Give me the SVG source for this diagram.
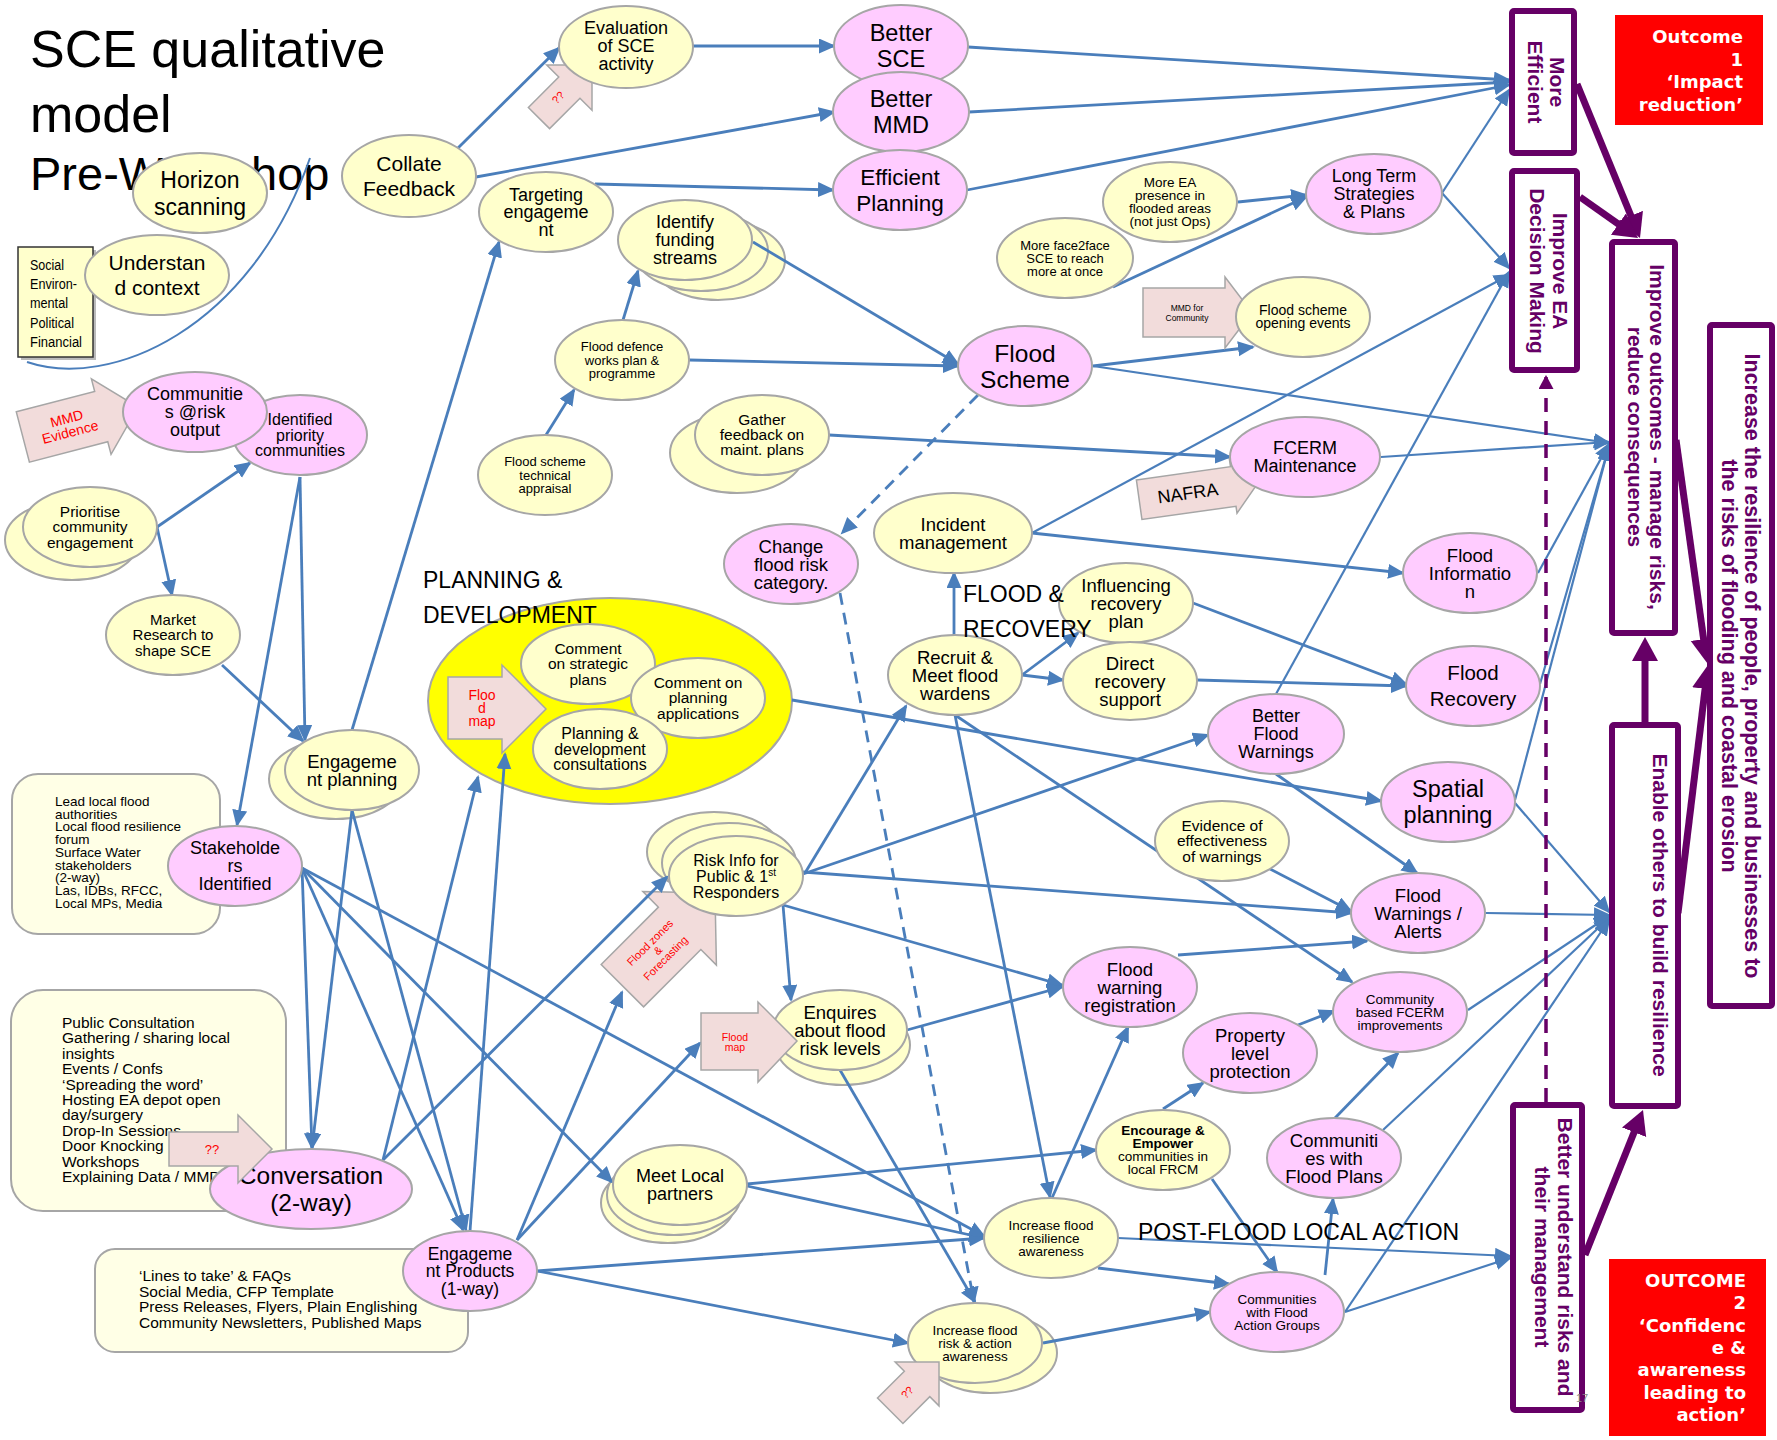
<svg xmlns="http://www.w3.org/2000/svg" width="1777" height="1440" viewBox="0 0 1777 1440">
<style>
.y{fill:#FFFFCC;stroke:#A6A6A6;stroke-width:2}
.p{fill:#FFCCFF;stroke:#A6A6A6;stroke-width:2}
.t{font-family:"Liberation Sans",Arial,sans-serif;fill:#000;text-anchor:middle}
.tl{font-family:"Liberation Sans",Arial,sans-serif;fill:#000}
.c{fill:none;stroke:#4A7EBB;stroke-width:2.8;marker-end:url(#a)}
.c2{fill:none;stroke:#4A7EBB;stroke-width:2.2;marker-end:url(#a)}
.cd{fill:none;stroke:#4A7EBB;stroke-width:2.8;stroke-dasharray:12 8;marker-end:url(#a)}
.pk{fill:#F2DCDB;stroke:#A6A6A6;stroke-width:1.5}
.rt{font-family:"Liberation Sans",Arial,sans-serif;fill:#FF0000;text-anchor:middle}
.pb{fill:#FFFFFF;stroke:#660066;stroke-width:6}
.pt{font-family:"Liberation Sans",Arial,sans-serif;font-weight:bold;fill:#660066;text-anchor:middle}
.pa{fill:none;stroke:#660066;stroke-width:7;marker-end:url(#pm)}
.ob{fill:#FF0000}
.ot{font-family:"DejaVu Sans",Verdana,sans-serif;font-weight:bold;fill:#FFFFFF;text-anchor:end;font-size:18px}
.bx{fill:#FFFFE6;stroke:#A6A6A6;stroke-width:2}
.lbl{font-family:"Liberation Sans",Arial,sans-serif;fill:#000;font-size:23px}
</style>
<defs>
<marker id="a" markerUnits="userSpaceOnUse" markerWidth="18" markerHeight="16" refX="15" refY="7.5" orient="auto"><path d="M0,0 L17,7.5 L0,15 z" fill="#4A7EBB"/></marker>
<marker id="pm" markerUnits="userSpaceOnUse" markerWidth="26" markerHeight="28" refX="10" refY="13" orient="auto"><path d="M0,0 L24,13 L0,26 z" fill="#660066"/></marker>
<marker id="pd" markerUnits="userSpaceOnUse" markerWidth="16" markerHeight="16" refX="12" refY="7.5" orient="auto"><path d="M0,0 L14,7.5 L0,15 z" fill="#660066"/></marker>
</defs>
<rect width="1777" height="1440" fill="#FFFFFF"/>

<!-- background: title, boxes, big ellipse, back stacks -->
<g id="title">
<text class="tl" font-size="52" x="30" y="67">SCE qualitative</text>
<text class="tl" font-size="52" x="30" y="132">model</text>
<text class="tl" font-size="47" x="30" y="190">Pre-Workshop</text>
</g>
<path id="horizon-bracket" d="M27,362 C110,390 250,330 310,158" fill="none" stroke="#4A7EBB" stroke-width="2"/>
<g id="social-box">
<rect x="21" y="250" width="75" height="110" fill="#BBBBBB"/>
<rect x="18" y="247" width="75" height="110" fill="#FFFFCC" stroke="#333" stroke-width="1.5"/>
<g font-family="'Liberation Sans',Arial,sans-serif" font-size="15.5" fill="#000" lengthAdjust="spacingAndGlyphs">
<text x="30" y="270" textLength="34" lengthAdjust="spacingAndGlyphs">Social</text>
<text x="30" y="289" textLength="47" lengthAdjust="spacingAndGlyphs">Environ-</text>
<text x="30" y="308" textLength="38" lengthAdjust="spacingAndGlyphs">mental</text>
<text x="30" y="328" textLength="44" lengthAdjust="spacingAndGlyphs">Political</text>
<text x="30" y="347" textLength="52" lengthAdjust="spacingAndGlyphs">Financial</text>
</g>
</g>
<g id="lead-box">
<rect class="bx" x="12" y="774" width="208" height="160" rx="26"/>
<text class="tl" font-size="13.5"><tspan x="55" y="806">Lead local flood</tspan><tspan x="55" y="818.7">authorities</tspan><tspan x="55" y="831.4">Local flood resilience</tspan><tspan x="55" y="844.1">forum</tspan><tspan x="55" y="856.8">Surface Water</tspan><tspan x="55" y="869.5">stakeholders</tspan><tspan x="55" y="882.2">(2-way)</tspan><tspan x="55" y="894.9">Las, IDBs, RFCC,</tspan><tspan x="55" y="907.6">Local MPs, Media</tspan></text>
</g>
<g id="public-box">
<rect class="bx" x="11" y="990" width="275" height="221" rx="32"/>
<text class="tl" font-size="15.5"><tspan x="62" y="1028">Public Consultation</tspan><tspan x="62" y="1043.4">Gathering / sharing local</tspan><tspan x="62" y="1058.8">insights</tspan><tspan x="62" y="1074.2">Events / Confs</tspan><tspan x="62" y="1089.6">‘Spreading the word’</tspan><tspan x="62" y="1105">Hosting EA depot open</tspan><tspan x="62" y="1120.4">day/surgery</tspan><tspan x="62" y="1135.8">Drop-In Sessions</tspan><tspan x="62" y="1151.2">Door Knocking</tspan><tspan x="62" y="1166.6">Workshops</tspan><tspan x="62" y="1182">Explaining Data / MMD</tspan></text>
</g>
<g id="lines-box">
<rect class="bx" x="95" y="1249" width="373" height="103" rx="20"/>
<text class="tl" font-size="15.5"><tspan x="139" y="1281">‘Lines to take’ &amp; FAQs</tspan><tspan x="139" y="1296.5">Social Media,  CFP Template</tspan><tspan x="139" y="1312">Press Releases, Flyers, Plain Englishing</tspan><tspan x="139" y="1327.5">Community Newsletters, Published Maps</tspan></text>
</g>
<g id="planning-development-area">
<ellipse cx="610" cy="701" rx="182" ry="103" fill="#FFFF00" stroke="#A6A6A6" stroke-width="2"/>
</g>
<g id="flood-zones-arrow" transform="translate(715,893) rotate(-45)">
<path class="pk" d="M-131,-30 L-50,-30 L-50,-52 L0,0 L-50,52 L-50,30 L-131,30 Z"/>
<text class="rt" font-size="11"><tspan x="-81" y="-7">Flood zones</tspan><tspan x="-81" y="4">&amp;</tspan><tspan x="-81" y="15">Forecasting</tspan></text>
</g>
<g id="stack-backs">
<ellipse class="y" cx="718" cy="260" rx="67" ry="40"/>
<ellipse class="y" cx="701" cy="251" rx="67" ry="40"/>
<ellipse class="y" cx="737" cy="453" rx="67" ry="40"/>
<ellipse class="y" cx="72" cy="540" rx="67" ry="40"/>
<ellipse class="y" cx="336" cy="779" rx="67" ry="40"/>
<ellipse class="y" cx="714" cy="852" rx="67" ry="40"/>
<ellipse class="y" cx="729" cy="863" rx="67" ry="40"/>
<ellipse class="y" cx="843" cy="1045" rx="67" ry="40"/>
<ellipse class="y" cx="668" cy="1203" rx="67" ry="40"/>
<ellipse class="y" cx="674" cy="1195" rx="67" ry="40"/>
<ellipse class="y" cx="990" cy="1353" rx="67" ry="40"/>
</g>

<!-- connectors -->
<g id="connectors">
<path class="c" d="M458,148 L559,48"/>
<path class="c" d="M476,177 L834,112"/>
<path class="c" d="M693,46 L834,46"/>
<path class="c" d="M595,184 L833,190"/>
<path class="c" d="M352,730 L499,242"/>
<path class="c" d="M753,242 L958,364"/>
<path class="c" d="M623,320 L638,271"/>
<path class="c" d="M689,360 L958,366"/>
<path class="c" d="M546,435 L574,390"/>
<path class="c" d="M829,435 L1230,457"/>
<path class="c" d="M968,47 L1509,80"/>
<path class="c" d="M969,112 L1509,82"/>
<path class="c" d="M967,190 L1509,85"/>
<path class="c2" d="M1442,193 L1509,90"/>
<path class="c2" d="M1442,193 L1509,268"/>
<path class="c" d="M1238,202 L1306,195"/>
<path class="c" d="M1113,287 L1306,197"/>
<path class="c" d="M1093,366 L1253,347"/>
<path class="c2" d="M1093,366 L1609,443"/>
<path class="cd" d="M978,395 L842,533"/>
<path class="cd" d="M840,593 L974,1302"/>
<path class="c2" d="M1032,533 L1509,275"/>
<path class="c" d="M1032,533 L1403,573"/>
<path class="c" d="M954,635 L954,573"/>
<path class="c" d="M1022,675 L1078,633"/>
<path class="c" d="M1022,675 L1063,680"/>
<path class="c" d="M1193,603 L1406,684"/>
<path class="c" d="M1197,680 L1406,686"/>
<path class="c2" d="M1276,694 L1509,272"/>
<path class="c" d="M1276,774 L1417,873"/>
<path class="c" d="M955,715 L1050,1197"/>
<path class="c" d="M955,715 L1352,982"/>
<path class="c" d="M1270,869 L1351,911"/>
<path class="c" d="M803,872 L1351,913"/>
<path class="c" d="M803,874 L1208,735"/>
<path class="c" d="M805,873 L906,706"/>
<path class="c" d="M783,905 L1062,985"/>
<path class="c" d="M783,905 L791,1000"/>
<path class="c" d="M792,700 L1381,801"/>
<path class="c2" d="M1515,800 L1609,446"/>
<path class="c2" d="M1515,803 L1609,912"/>
<path class="c2" d="M1538,573 L1609,444"/>
<path class="c2" d="M1540,684 L1609,446"/>
<path class="c2" d="M1381,457 L1609,442"/>
<path class="c2" d="M1486,913 L1609,915"/>
<path class="c2" d="M1468,1010 L1609,916"/>
<path class="c2" d="M1383,1130 L1609,918"/>
<path class="c2" d="M1345,1312 L1609,920"/>
<path class="c2" d="M1345,1312 L1510,1258"/>
<path class="c2" d="M1118,1238 L1510,1256"/>
<path class="c" d="M1325,1275 L1333,1199"/>
<path class="c" d="M1335,1118 L1398,1053"/>
<path class="c" d="M1298,1025 L1334,1011"/>
<path class="c" d="M1163,1109 L1203,1083"/>
<path class="c" d="M1212,1179 L1277,1272"/>
<path class="c" d="M1052,1198 L1128,1027"/>
<path class="c" d="M1098,1268 L1229,1284"/>
<path class="c" d="M1043,1343 L1210,1312"/>
<path class="c" d="M747,1184 L1096,1150"/>
<path class="c" d="M747,1186 L984,1238"/>
<path class="c" d="M537,1271 L984,1238"/>
<path class="c" d="M537,1271 L908,1343"/>
<path class="c" d="M383,1160 L667,877"/>
<path class="c" d="M517,1240 L622,992"/>
<path class="c" d="M517,1240 L700,1043"/>
<path class="c" d="M302,868 L312,1148"/>
<path class="c" d="M352,810 L312,1148"/>
<path class="c" d="M302,868 L463,1230"/>
<path class="c" d="M352,810 L466,1230"/>
<path class="c" d="M302,868 L612,1182"/>
<path class="c" d="M302,868 L984,1236"/>
<path class="c" d="M383,1160 L478,777"/>
<path class="c" d="M470,1231 L505,754"/>
<path class="c" d="M300,477 L305,740"/>
<path class="c" d="M300,477 L237,825"/>
<path class="c" d="M222,665 L303,741"/>
<path class="c" d="M157,527 L250,463"/>
<path class="c" d="M157,527 L172,595"/>
<path class="c" d="M840,1070 L975,1302"/>
<path class="c" d="M907,1030 L1062,987"/>
<path class="c" d="M1178,955 L1367,941"/>
<path class="pa" d="M1577,84 L1634.7,225"/>
<path class="pa" d="M1580,197 L1626.6,229.9"/>
<path class="pa" d="M1676,440 L1705,649"/>
<path class="pa" d="M1678,913 L1706.3,679"/>
<path class="pa" d="M1645,722 L1645,651"/>
<path class="pa" d="M1585,1255 L1637.8,1123"/>
<path d="M1546,1102 L1546,377" fill="none" stroke="#660066" stroke-width="3.5" stroke-dasharray="14 9" marker-end="url(#pd)"/>
</g>

<!-- pink arrows under nodes -->
<g id="mmd-evidence-arrow" transform="translate(138,407) rotate(-14.6)">
<path class="pk" d="M-119,-26 L-38,-26 L-38,-39 L0,0 L-38,39 L-38,26 L-119,26 Z"/>
<text class="rt" font-size="14"><tspan x="-72" y="-2">MMD</tspan><tspan x="-72" y="12">Evidence</tspan></text>
</g>
<g id="qq-arrow-top" transform="translate(592,65) rotate(-45)">
<path class="pk" d="M-75,-15 L-32,-15 L-32,-32 L0,0 L-32,32 L-32,15 L-75,15 Z"/>
<text class="rt" font-size="11" x="-47" y="3">??</text>
</g>
<g id="nafra-arrow" transform="translate(1258,483) rotate(-8)">
<path class="pk" d="M-120,-20 L-25,-20 L-25,-27 L0,0 L-25,27 L-25,20 L-120,20 Z"/>
<text class="t" font-size="18" x="-71" y="6.5">NAFRA</text>
</g>
<g id="mmd-community-arrow">
<path class="pk" d="M1143,288 L1225,288 L1225,277 L1252,312.5 L1225,348 L1225,337 L1143,337 Z"/>
<text class="t" font-size="8.5" fill="#333"><tspan x="1187" y="311">MMD for</tspan><tspan x="1187" y="320.5">Community</tspan></text>
</g>

<!-- nodes -->
<g id="horizon-scanning"><ellipse class="y" cx="200" cy="193" rx="67" ry="40"/><text class="t" font-size="23"><tspan x="200" y="187.5">Horizon</tspan><tspan x="200" y="214.5">scanning</tspan></text></g>
<g id="understand-context"><ellipse class="y" cx="157" cy="275" rx="72" ry="40"/><text class="t" font-size="21"><tspan x="157" y="270">Understan</tspan><tspan x="157" y="295">d context</tspan></text></g>
<g id="collate-feedback"><ellipse class="y" cx="409" cy="176" rx="67" ry="41"/><text class="t" font-size="21"><tspan x="409" y="171">Collate</tspan><tspan x="409" y="196">Feedback</tspan></text></g>
<g id="identified-priority"><ellipse class="p" cx="300" cy="435" rx="67" ry="40"/><text class="t" font-size="16"><tspan x="300" y="425">Identified</tspan><tspan x="300" y="440.5">priority</tspan><tspan x="300" y="456">communities</tspan></text></g>
<g id="communities-risk"><ellipse class="p" cx="195" cy="412" rx="72" ry="40"/><text class="t" font-size="18"><tspan x="195" y="400.3">Communitie</tspan><tspan x="195" y="418.3">s @risk</tspan><tspan x="195" y="436.3">output</tspan></text></g>
<g id="evaluation"><ellipse class="y" cx="626" cy="47" rx="67" ry="41"/><text class="t" font-size="18"><tspan x="626" y="34">Evaluation</tspan><tspan x="626" y="52">of SCE</tspan><tspan x="626" y="70">activity</tspan></text></g>
<g id="better-sce"><ellipse class="p" cx="901" cy="46" rx="67" ry="41"/><text class="t" font-size="23.5"><tspan x="901" y="41.2">Better</tspan><tspan x="901" y="67.2">SCE</tspan></text></g>
<g id="better-mmd"><ellipse class="p" cx="901" cy="112" rx="68" ry="40"/><text class="t" font-size="23.5"><tspan x="901" y="107.2">Better</tspan><tspan x="901" y="133.2">MMD</tspan></text></g>
<g id="efficient-planning"><ellipse class="p" cx="900" cy="190" rx="67" ry="40"/><text class="t" font-size="22.5"><tspan x="900" y="185">Efficient</tspan><tspan x="900" y="211">Planning</tspan></text></g>
<g id="targeting"><ellipse class="y" cx="546" cy="212" rx="67" ry="40"/><text class="t" font-size="18"><tspan x="546" y="200.8">Targeting</tspan><tspan x="546" y="218.3">engageme</tspan><tspan x="546" y="235.8">nt</tspan></text></g>
<g id="identify-funding"><ellipse class="y" cx="685" cy="240" rx="67" ry="40"/><text class="t" font-size="18"><tspan x="685" y="228.3">Identify</tspan><tspan x="685" y="246.3">funding</tspan><tspan x="685" y="264.3">streams</tspan></text></g>
<g id="flood-defence-works"><ellipse class="y" cx="622" cy="360" rx="67" ry="40"/><text class="t" font-size="13"><tspan x="622" y="351.3">Flood defence</tspan><tspan x="622" y="364.6">works plan &amp;</tspan><tspan x="622" y="377.9">programme</tspan></text></g>
<g id="flood-scheme-appraisal"><ellipse class="y" cx="545" cy="475" rx="67" ry="40"/><text class="t" font-size="13"><tspan x="545" y="466.3">Flood scheme</tspan><tspan x="545" y="479.6">technical</tspan><tspan x="545" y="492.9">appraisal</tspan></text></g>
<g id="gather-feedback"><ellipse class="y" cx="762" cy="435" rx="67" ry="40"/><text class="t" font-size="15.5"><tspan x="762" y="425.4">Gather</tspan><tspan x="762" y="440.4">feedback on</tspan><tspan x="762" y="455.4">maint. plans</tspan></text></g>
<g id="more-ea-presence"><ellipse class="y" cx="1170" cy="202" rx="67" ry="40"/><text class="t" font-size="13.5"><tspan x="1170" y="187.2">More EA</tspan><tspan x="1170" y="200.2">presence in</tspan><tspan x="1170" y="213.2">flooded areas</tspan><tspan x="1170" y="226.2">(not just Ops)</tspan></text></g>
<g id="more-face2face"><ellipse class="y" cx="1065" cy="258" rx="68" ry="40"/><text class="t" font-size="13"><tspan x="1065" y="249.5">More face2face</tspan><tspan x="1065" y="262.5">SCE to reach</tspan><tspan x="1065" y="275.5">more at once</tspan></text></g>
<g id="flood-scheme-opening"><ellipse class="y" cx="1303" cy="317" rx="67" ry="40"/><text class="t" font-size="14"><tspan x="1303" y="315.4">Flood scheme</tspan><tspan x="1303" y="328.4">opening events</tspan></text></g>
<g id="flood-scheme"><ellipse class="p" cx="1025" cy="366" rx="67" ry="40"/><text class="t" font-size="24.5"><tspan x="1025" y="361.6">Flood</tspan><tspan x="1025" y="387.6">Scheme</tspan></text></g>
<g id="long-term"><ellipse class="p" cx="1374" cy="194" rx="68" ry="40"/><text class="t" font-size="18"><tspan x="1374" y="182.3">Long Term</tspan><tspan x="1374" y="200.3">Strategies</tspan><tspan x="1374" y="218.3">&amp; Plans</tspan></text></g>
<g id="fcerm-maintenance"><ellipse class="p" cx="1305" cy="457" rx="75" ry="40"/><text class="t" font-size="18"><tspan x="1305" y="454.3">FCERM</tspan><tspan x="1305" y="472.3">Maintenance</tspan></text></g>
<g id="prioritise"><ellipse class="y" cx="90" cy="527" rx="67" ry="40"/><text class="t" font-size="15.5"><tspan x="90" y="516.9">Prioritise</tspan><tspan x="90" y="532.4">community</tspan><tspan x="90" y="547.9">engagement</tspan></text></g>
<g id="market-research"><ellipse class="y" cx="173" cy="635" rx="67" ry="40"/><text class="t" font-size="15"><tspan x="173" y="624.8">Market</tspan><tspan x="173" y="640.3">Research to</tspan><tspan x="173" y="655.8">shape SCE</tspan></text></g>
<g id="engagement-planning"><ellipse class="y" cx="352" cy="770" rx="67" ry="40"/><text class="t" font-size="18.5"><tspan x="352" y="767.5">Engageme</tspan><tspan x="352" y="785.5">nt planning</tspan></text></g>
<g id="stakeholders"><ellipse class="p" cx="235" cy="866" rx="67" ry="40"/><text class="t" font-size="18"><tspan x="235" y="854.3">Stakeholde</tspan><tspan x="235" y="872.3">rs</tspan><tspan x="235" y="890.3">Identified</tspan></text></g>
<g id="comment-strategic"><ellipse class="y" cx="588" cy="664" rx="67" ry="40"/><text class="t" font-size="15.5"><tspan x="588" y="653.9">Comment</tspan><tspan x="588" y="669.4">on strategic</tspan><tspan x="588" y="684.9">plans</tspan></text></g>
<g id="comment-planning"><ellipse class="y" cx="698" cy="698" rx="67" ry="40"/><text class="t" font-size="15.5"><tspan x="698" y="687.9">Comment on</tspan><tspan x="698" y="703.4">planning</tspan><tspan x="698" y="718.9">applications</tspan></text></g>
<g id="planning-consultations"><ellipse class="y" cx="600" cy="749" rx="67" ry="40"/><text class="t" font-size="16"><tspan x="600" y="739.1">Planning &amp;</tspan><tspan x="600" y="754.6">development</tspan><tspan x="600" y="770.1">consultations</tspan></text></g>
<g id="flood-map-arrow">
<path class="pk" d="M448,677 L502,677 L502,665 L546,709 L502,753 L502,739 L448,739 Z"/>
<text class="rt" font-size="14"><tspan x="482" y="700">Floo</tspan><tspan x="482" y="713">d</tspan><tspan x="482" y="726">map</tspan></text>
</g>
<g id="change-category"><ellipse class="p" cx="791" cy="564" rx="67" ry="40"/><text class="t" font-size="18.5"><tspan x="791" y="552.5">Change</tspan><tspan x="791" y="570.5">flood risk</tspan><tspan x="791" y="588.5">category.</tspan></text></g>
<g id="risk-info"><ellipse class="y" cx="736" cy="876" rx="67" ry="40"/><text class="t" font-size="16"><tspan x="736" y="865.6">Risk Info for</tspan></text><text class="t" font-size="16" x="736" y="881.6">Public &amp; 1<tspan font-size="10" dy="-6">st</tspan></text><text class="t" font-size="16" x="736" y="897.6">Responders</text></g>
<g id="incident-management"><ellipse class="y" cx="953" cy="533" rx="79" ry="40"/><text class="t" font-size="18.5"><tspan x="953" y="530.5">Incident</tspan><tspan x="953" y="548.5">management</tspan></text></g>
<g id="influencing-recovery"><ellipse class="y" cx="1126" cy="603" rx="67" ry="40"/><text class="t" font-size="18.5"><tspan x="1126" y="591.5">Influencing</tspan><tspan x="1126" y="609.5">recovery</tspan><tspan x="1126" y="627.5">plan</tspan></text></g>
<g id="direct-recovery"><ellipse class="y" cx="1130" cy="681" rx="67" ry="39"/><text class="t" font-size="18.5"><tspan x="1130" y="669.5">Direct</tspan><tspan x="1130" y="687.5">recovery</tspan><tspan x="1130" y="705.5">support</tspan></text></g>
<g id="recruit-wardens"><ellipse class="y" cx="955" cy="675" rx="67" ry="40"/><text class="t" font-size="18.5"><tspan x="955" y="663.5">Recruit &amp;</tspan><tspan x="955" y="681.5">Meet flood</tspan><tspan x="955" y="699.5">wardens</tspan></text></g>
<g id="better-flood-warnings"><ellipse class="p" cx="1276" cy="734" rx="68" ry="40"/><text class="t" font-size="18"><tspan x="1276" y="722.3">Better</tspan><tspan x="1276" y="740.3">Flood</tspan><tspan x="1276" y="758.3">Warnings</tspan></text></g>
<g id="evidence-effectiveness"><ellipse class="y" cx="1222" cy="841" rx="67" ry="40"/><text class="t" font-size="15.5"><tspan x="1222" y="830.9">Evidence of</tspan><tspan x="1222" y="846.4">effectiveness</tspan><tspan x="1222" y="861.9">of warnings</tspan></text></g>
<g id="flood-information"><ellipse class="p" cx="1470" cy="573" rx="67" ry="40"/><text class="t" font-size="18.5"><tspan x="1470" y="561.5">Flood</tspan><tspan x="1470" y="579.5">Informatio</tspan><tspan x="1470" y="597.5">n</tspan></text></g>
<g id="flood-recovery"><ellipse class="p" cx="1473" cy="686" rx="67" ry="40"/><text class="t" font-size="20.5"><tspan x="1473" y="680.2">Flood</tspan><tspan x="1473" y="706.2">Recovery</tspan></text></g>
<g id="spatial-planning"><ellipse class="p" cx="1448" cy="802" rx="67" ry="40"/><text class="t" font-size="23.5"><tspan x="1448" y="797.2">Spatial</tspan><tspan x="1448" y="823.2">planning</tspan></text></g>
<g id="flood-warnings-alerts"><ellipse class="p" cx="1418" cy="913" rx="67" ry="40"/><text class="t" font-size="18.5"><tspan x="1418" y="901.5">Flood</tspan><tspan x="1418" y="919.5">Warnings /</tspan><tspan x="1418" y="937.5">Alerts</tspan></text></g>
<g id="flood-warning-registration"><ellipse class="p" cx="1130" cy="987" rx="67" ry="40"/><text class="t" font-size="18.5"><tspan x="1130" y="975.5">Flood</tspan><tspan x="1130" y="993.5">warning</tspan><tspan x="1130" y="1011.5">registration</tspan></text></g>
<g id="property-protection"><ellipse class="p" cx="1250" cy="1053" rx="67" ry="40"/><text class="t" font-size="18.5"><tspan x="1250" y="1041.5">Property</tspan><tspan x="1250" y="1059.5">level</tspan><tspan x="1250" y="1077.5">protection</tspan></text></g>
<g id="community-fcerm"><ellipse class="p" cx="1400" cy="1012" rx="67" ry="40"/><text class="t" font-size="13.5"><tspan x="1400" y="1003.7">Community</tspan><tspan x="1400" y="1016.7">based FCERM</tspan><tspan x="1400" y="1029.7">improvements</tspan></text></g>
<g id="encourage-empower"><ellipse class="y" cx="1163" cy="1150" rx="67" ry="40"/><text class="t" font-size="13.5"><tspan x="1163" y="1134.5" font-weight="bold">Encourage &amp;</tspan><tspan x="1163" y="1147.5" font-weight="bold">Empower</tspan><tspan x="1163" y="1160.5">communities in</tspan><tspan x="1163" y="1173.5">local FRCM</tspan></text></g>
<g id="communities-flood-plans"><ellipse class="p" cx="1334" cy="1158" rx="67" ry="40"/><text class="t" font-size="18.5"><tspan x="1334" y="1146.5">Communiti</tspan><tspan x="1334" y="1164.5">es with</tspan><tspan x="1334" y="1182.5">Flood Plans</tspan></text></g>
<g id="meet-local-partners"><ellipse class="y" cx="680" cy="1185" rx="67" ry="40"/><text class="t" font-size="18"><tspan x="680" y="1182.3">Meet Local</tspan><tspan x="680" y="1200.3">partners</tspan></text></g>
<g id="enquires"><ellipse class="y" cx="840" cy="1030" rx="67" ry="40"/><text class="t" font-size="18.5"><tspan x="840" y="1018.5">Enquires</tspan><tspan x="840" y="1036.5">about flood</tspan><tspan x="840" y="1054.5">risk levels</tspan></text></g>
<g id="flood-map-arrow-2">
<path class="pk" d="M701,1013 L758,1013 L758,1002 L797,1041 L758,1082 L758,1070 L701,1070 Z"/>
<text class="rt" font-size="10.5"><tspan x="735" y="1041">Flood</tspan><tspan x="735" y="1051">map</tspan></text>
</g>
<g id="increase-resilience-awareness"><ellipse class="y" cx="1051" cy="1238" rx="67" ry="40"/><text class="t" font-size="13.5"><tspan x="1051" y="1229.7">Increase flood</tspan><tspan x="1051" y="1242.7">resilience</tspan><tspan x="1051" y="1255.7">awareness</tspan></text></g>
<g id="communities-action-groups"><ellipse class="p" cx="1277" cy="1312" rx="67" ry="40"/><text class="t" font-size="13.5"><tspan x="1277" y="1303.7">Communities</tspan><tspan x="1277" y="1316.7">with Flood</tspan><tspan x="1277" y="1329.7">Action Groups</tspan></text></g>
<g id="increase-risk-awareness"><ellipse class="y" cx="975" cy="1343" rx="67" ry="40"/><text class="t" font-size="13.5"><tspan x="975" y="1334.7">Increase flood</tspan><tspan x="975" y="1347.7">risk &amp; action</tspan><tspan x="975" y="1360.7">awareness</tspan></text></g>
<g id="qq-arrow-bottom" transform="translate(939,1362) rotate(-45)">
<path class="pk" d="M-69,-18 L-31,-18 L-31,-31 L0,0 L-31,31 L-31,18 L-69,18 Z"/>
<text class="rt" font-size="11" x="-44" y="3">??</text>
</g>
<g id="conversation"><ellipse class="p" cx="311" cy="1189" rx="101" ry="40"/><text class="t" font-size="24.5"><tspan x="311" y="1184">Conversation</tspan><tspan x="311" y="1211">(2-way)</tspan></text></g>
<g id="qq-arrow-conversation">
<path class="pk" d="M169,1132 L238,1132 L238,1115 L272,1149 L238,1183 L238,1166 L169,1166 Z"/>
<text class="rt" font-size="13" x="212" y="1154">??</text>
</g>
<g id="engagement-products"><ellipse class="p" cx="470" cy="1271" rx="67" ry="40"/><text class="t" font-size="17.5"><tspan x="470" y="1259.6">Engageme</tspan><tspan x="470" y="1277.1">nt Products</tspan><tspan x="470" y="1294.6">(1-way)</tspan></text></g>

<!-- section labels -->
<g id="section-labels">
<text class="lbl" x="423" y="588">PLANNING &amp;</text>
<text class="lbl" x="423" y="623">DEVELOPMENT</text>
<text class="lbl" x="963" y="602">FLOOD &amp;</text>
<text class="lbl" x="963" y="637">RECOVERY</text>
<text class="lbl" x="1138" y="1240" font-size="22.5">POST-FLOOD LOCAL ACTION</text>
</g>

<!-- outcome boxes -->
<g id="more-efficient"><rect class="pb" x="1512" y="11" width="62" height="142" rx="2"/><text class="pt" font-size="21" transform="translate(1543,82) rotate(90)"><tspan x="0" y="-7">More</tspan><tspan x="0" y="15">Efficient</tspan></text></g>
<g id="improve-ea"><rect class="pb" x="1512" y="171" width="65" height="199" rx="2"/><text class="pt" font-size="21" transform="translate(1545,271) rotate(90)"><tspan x="0" y="-8">Improve EA</tspan><tspan x="0" y="15">Decision Making</tspan></text></g>
<g id="improve-outcomes"><rect class="pb" x="1612" y="242" width="63" height="391" rx="2"/><text class="pt" font-size="21" transform="translate(1645,437) rotate(90)"><tspan x="0" y="-5">Improve outcomes - manage risks,</tspan><tspan x="0" y="17">reduce consequences</tspan></text></g>
<g id="increase-resilience"><rect class="pb" x="1710" y="325" width="62" height="681" rx="2"/><text class="pt" font-size="21.5" transform="translate(1740,666) rotate(90)"><tspan x="0" y="-5">Increase the resilience of people, property and businesses to</tspan><tspan x="0" y="18">the risks of flooding and coastal erosion</tspan></text></g>
<g id="enable-others"><rect class="pb" x="1612" y="725" width="66" height="381" rx="2"/><text class="pt" font-size="21" transform="translate(1645,915) rotate(90)"><tspan x="0" y="-8">Enable others to build resilience</tspan></text></g>
<g id="better-understand"><rect class="pb" x="1513" y="1105" width="69" height="305" rx="2"/><text class="pt" font-size="21" transform="translate(1548,1257) rotate(90)"><tspan x="0" y="-10">Better understand risks and</tspan><tspan x="0" y="13">their management</tspan></text></g>
<g id="outcome-1"><rect class="ob" x="1615" y="15" width="148" height="110"/><text class="ot"><tspan x="1743" y="43">Outcome</tspan><tspan x="1743" y="65.5">1</tspan><tspan x="1743" y="88">‘Impact</tspan><tspan x="1743" y="110.5">reduction’</tspan></text></g>
<g id="outcome-2"><rect class="ob" x="1609" y="1259" width="157" height="177"/><text class="ot"><tspan x="1746" y="1287">OUTCOME</tspan><tspan x="1746" y="1309.3">2</tspan><tspan x="1746" y="1331.6">‘Confidenc</tspan><tspan x="1746" y="1353.9">e &amp;</tspan><tspan x="1746" y="1376.2">awareness</tspan><tspan x="1746" y="1398.5">leading to</tspan><tspan x="1746" y="1420.8">action’</tspan></text></g>
<text x="1576" y="1402" font-family="'Liberation Sans',Arial,sans-serif" font-size="11" fill="#888">17</text>
</svg>
